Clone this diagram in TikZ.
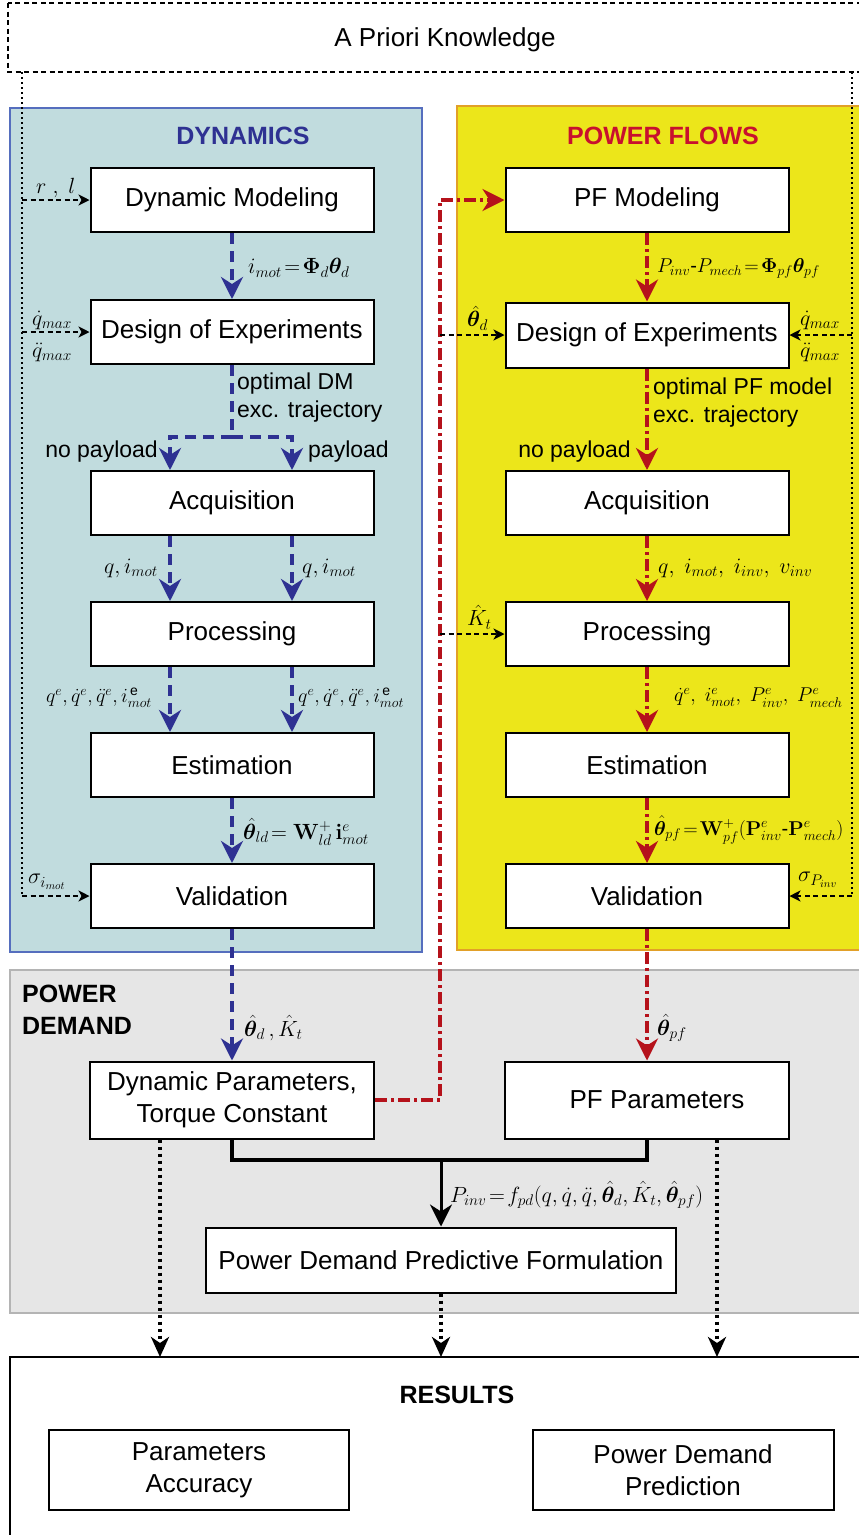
\RequirePackage{fix-cm}
\documentclass[tikz,border=0pt]{standalone}
\usepackage{amsmath,bm}
\usepackage[no-math]{fontspec}
\setmainfont{Liberation Sans}
\usetikzlibrary{arrows.meta}
\definecolor{dynfill}{RGB}{193,220,222}
\definecolor{dynborder}{RGB}{85,110,190}
\definecolor{pffill}{RGB}{236,230,26}
\definecolor{pfborder}{RGB}{226,160,40}
\definecolor{pdfill}{RGB}{230,230,230}
\definecolor{pdborder}{RGB}{180,180,180}
\definecolor{dblue}{RGB}{46,49,146}
\definecolor{dred}{RGB}{181,18,27}
\definecolor{titlered}{RGB}{200,16,46}
\tikzset{
  box/.style={draw=black, line width=2pt, fill=white, minimum width=283pt, minimum height=64pt,
    inner sep=0pt, align=center, font=\fontsize{26}{32}\selectfont},
  lbl/.style={inner sep=0pt, font=\fontsize{22}{27}\selectfont},
  lbls/.style={inner sep=0pt, font=\fontsize{20}{24}\selectfont},
  txt/.style={inner sep=0pt, font=\fontsize{23}{28}\selectfont, align=left},
  ttl/.style={inner sep=0pt, font=\fontsize{25}{32}\selectfont\bfseries},
  bigtip/.style={-{Stealth[length=22pt,width=22pt,inset=7pt]}},
  bluearrow/.style={draw=dblue, line width=4pt, dash pattern=on 11pt off 7pt, bigtip},
  blueline/.style={draw=dblue, line width=4pt, dash pattern=on 11pt off 7pt},
  redarrow/.style={draw=dred, line width=3.5pt, dash pattern=on 12pt off 4pt on 3pt off 4pt, bigtip},
  thinarrow/.style={draw=black, line width=1.8pt, dash pattern=on 5pt off 3.5pt,
    -{Stealth[length=11pt,width=11pt,inset=3pt]}},
  dotline/.style={draw=black, line width=2pt, dash pattern=on 2pt off 3pt},
  solidline/.style={draw=black, line width=4pt},
  solidarrow/.style={draw=black, line width=3pt, bigtip},
  dotarrow/.style={draw=black, line width=4pt, dash pattern=on 3pt off 4pt,
    -{Stealth[length=20pt,width=18pt,inset=6pt]}},
}
\begin{document}
\begin{tikzpicture}[x=1pt,y=-1pt]
\useasboundingbox (0,0) rectangle (859,1535);
\clip (0,0) rectangle (859,1535);

% A priori knowledge
\draw[line width=2pt, dash pattern=on 5pt off 3.5pt] (8,3) rectangle (880,72);
\node[inner sep=0pt, font=\fontsize{26}{32}\selectfont] (apk) at (445,40) {A Priori Knowledge};

% panels
\draw[fill=dynfill, draw=dynborder, line width=2pt] (10,108) rectangle (422,952);
\draw[fill=pffill, draw=pfborder, line width=2pt] (457,106) rectangle (880,950);
\draw[fill=pdfill, draw=pdborder, line width=2pt] (10,970) rectangle (880,1313);
\draw[fill=white, draw=black, line width=2pt] (10,1357) rectangle (880,1560);
\coordinate (restop) at (0,1357);

\node[ttl, text=dblue] (dyntitle) at (243,136) {DYNAMICS};
\node[ttl, text=titlered] (pftitle) at (663,136) {POWER FLOWS};
\node[ttl, anchor=north west, align=left] (pdtitle) at (22,985) {POWER\\DEMAND};
\node[ttl] (restitle) at (457,1395) {RESULTS};

% left column
\node[box] (ldm) at (232,200) {Dynamic Modeling};
\node[box] (ldoe) at (232,332) {Design of Experiments};
\node[box] (lacq) at (232,503) {Acquisition};
\node[box] (lproc) at (232,634) {Processing};
\node[box] (lest) at (232,765) {Estimation};
\node[box] (lval) at (232,896) {Validation};

% right column
\node[box] (rdm) at (647,200) {PF Modeling};
\node[box, minimum height=65pt] (rdoe) at (647,335) {Design of Experiments};
\node[box] (racq) at (647,503) {Acquisition};
\node[box] (rproc) at (647,634) {Processing};
\node[box] (rest) at (647,765) {Estimation};
\node[box] (rval) at (647,896) {Validation};

% power demand
\node[box, minimum width=284pt, minimum height=77pt] (dp) at (232,1100) {Dynamic Parameters,\\Torque Constant};
\node[box, minimum width=284pt, minimum height=77pt] (pfp) at (647,1100) {\hspace*{20pt}PF Parameters};
\node[box, minimum width=470pt, minimum height=65pt] (pdf) at (441,1260) {Power Demand Predictive Formulation};

% results
\node[box, minimum width=300pt, minimum height=80pt] (pa) at (199,1470) {Parameters\\Accuracy};
\node[box, minimum width=301pt, minimum height=80pt] (pdp) at (683,1470) {Power Demand\\Prediction};

% helper coordinates
\coordinate (cl) at (170,0);
\coordinate (cr) at (292,0);
\coordinate (split) at (232,437);
\coordinate (redx) at (440,0);
\coordinate (lx) at (22,72);
\coordinate (rx) at (852,72);
\coordinate (junc) at (441,1160);
\coordinate (d1) at (160,0);
\coordinate (d3) at (717,0);

% a priori dotted feeds
\draw[dotline] (lx) -- (lx |- lval.west);
\draw[dotline] (rx) -- (rx |- rval.east);
\draw[thinarrow] (lx |- ldm.west) -- (ldm.west);
\draw[thinarrow] (lx |- ldoe.west) -- (ldoe.west);
\draw[thinarrow] (lx |- lval.west) -- (lval.west);
\draw[thinarrow] (rx |- rdoe.east) -- (rdoe.east);
\draw[thinarrow] (rx |- rval.east) -- (rval.east);

% blue flow
\draw[bluearrow] (ldm.south) -- (ldoe.north);
\draw[blueline] (ldoe.south) -- (split);
\draw[bluearrow] (split) -| (cl |- lacq.north);
\draw[bluearrow] (split) -| (cr |- lacq.north);
\draw[bluearrow] (cl |- lacq.south) -- (cl |- lproc.north);
\draw[bluearrow] (cr |- lacq.south) -- (cr |- lproc.north);
\draw[bluearrow] (cl |- lproc.south) -- (cl |- lest.north);
\draw[bluearrow] (cr |- lproc.south) -- (cr |- lest.north);
\draw[bluearrow] (lest.south) -- (lval.north);
\draw[bluearrow] (lval.south) -- (dp.north);

% red flow
\draw[redarrow] (dp.east) -| (redx |- rdm.west) -- (rdm.west);
\draw[thinarrow] (redx |- rdoe.west) -- (rdoe.west);
\draw[thinarrow] (redx |- rproc.west) -- (rproc.west);
\draw[redarrow] (rdm.south) -- (rdoe.north);
\draw[redarrow] (rdoe.south) -- (racq.north);
\draw[redarrow] (racq.south) -- (rproc.north);
\draw[redarrow] (rproc.south) -- (rest.north);
\draw[redarrow] (rest.south) -- (rval.north);
\draw[redarrow] (rval.south) -- (pfp.north);

% power demand connectors
\draw[solidline] (dp.south) -- (dp.south |- junc) -| (pfp.south);
\draw[solidarrow] (junc) -- (pdf.north);
\draw[dotarrow] (d1 |- dp.south) -- (d1 |- restop);
\draw[dotarrow] (pdf.south) -- (pdf.south |- restop);
\draw[dotarrow] (d3 |- pfp.south) -- (d3 |- restop);

% labels, left
\node[lbl, anchor=west] (l1) at (36,188) {$r\ ,\ l$};
\node[lbl, anchor=west] (l2) at (32,320) {$\dot q_{max}$};
\node[lbl, anchor=west] (l3) at (32,352) {$\ddot q_{max}$};
\node[lbl, anchor=west] (l4) at (28,882) {$\sigma_{i_{mot}}$};
\node[lbl, anchor=west] (l5) at (248,268) {$i_{mot}\!=\!\mathbf{\Phi}_d\bm{\theta}_d$};
\node[txt, anchor=north west] (l6) at (237,373) {optimal DM\\exc. trajectory};
\node[txt, anchor=east] (l7) at (158,452) {no payload};
\node[txt, anchor=west] (l8) at (308,452) {payload};
\node[lbl, anchor=east] (l9) at (158,568) {$q,i_{mot}$};
\node[lbl, anchor=west] (l10) at (302,568) {$q,i_{mot}$};
\node[lbls, anchor=east] (l11) at (152,698) {$q^e,\dot q^e,\ddot q^e,i_{mot}^{\,\text{e}}$};
\node[lbls, anchor=west] (l12) at (298,698) {$q^e,\dot q^e,\ddot q^e,i_{mot}^{\,\text{e}}$};
\node[lbl, anchor=west] (l13) at (243,832) {$\hat{\bm\theta}_{ld}\!=\mathbf{W}^{+}_{ld}\,\mathbf{i}^{e}_{mot}$};
\node[lbl, anchor=west] (l14) at (244,1028) {$\hat{\bm\theta}_d\,,\hat K_t$};

% labels, right
\node[lbls, anchor=west] (r1) at (657,268) {$P_{inv}\text{-}P_{mech}\!=\!\mathbf{\Phi}_{pf}\bm{\theta}_{pf}$};
\node[lbl, anchor=west] (r2) at (467,318) {$\hat{\bm\theta}_d$};
\node[lbl, anchor=west] (r3) at (800,320) {$\dot q_{max}$};
\node[lbl, anchor=west] (r4) at (800,352) {$\ddot q_{max}$};
\node[txt, anchor=north west] (r5) at (653,378) {optimal PF model\\exc. trajectory};
\node[txt, anchor=east] (r6) at (631,452) {no payload};
\node[lbl, anchor=west] (r7) at (658,568) {$q,\ i_{mot},\ i_{inv},\ v_{inv}$};
\node[lbl, anchor=west] (r8) at (467,617) {$\hat K_t$};
\node[lbls, anchor=west] (r9) at (674,698) {$\dot q^e,\ i^e_{mot},\ P^{e}_{inv},\ P^{e}_{mech}$};
\node[lbls, anchor=west] (r10) at (654,830) {$\hat{\bm\theta}_{pf}\!=\!\mathbf{W}^{+}_{pf}(\mathbf{P}^{e}_{inv}\text{-}\mathbf{P}^{e}_{mech})$};
\node[lbl, anchor=west] (r11) at (798,880) {$\sigma_{P_{inv}}$};
\node[lbl, anchor=west] (r12) at (657,1028) {$\hat{\bm\theta}_{pf}$};
\node[lbl, anchor=west] (r13) at (450,1195) {$P_{inv}\!=\!f_{pd}(q,\dot q,\ddot q,\hat{\bm\theta}_d,\hat K_t,\hat{\bm\theta}_{pf})$};
\end{tikzpicture}
\end{document}
